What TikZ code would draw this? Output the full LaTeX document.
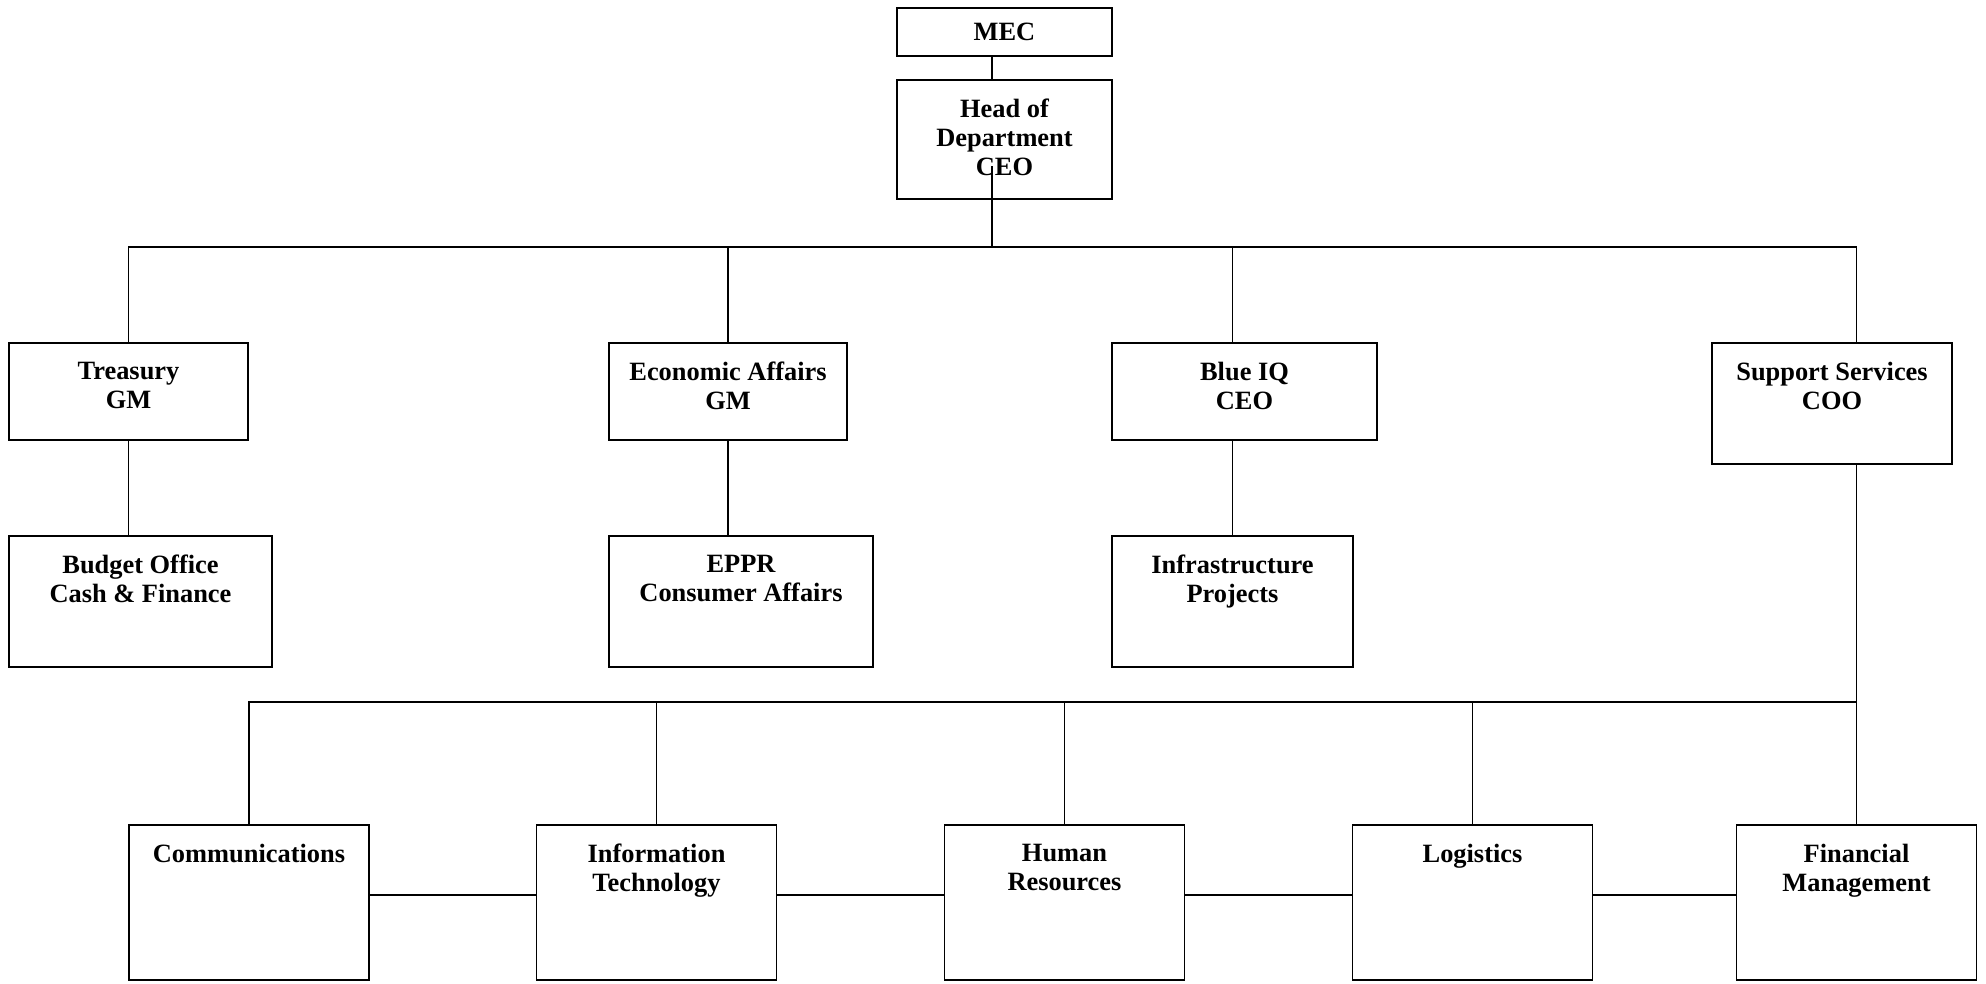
\documentclass[tikz,border=0pt]{standalone}
\usepackage{fontspec}
\setmainfont{Liberation Serif}
\usetikzlibrary{calc}

\begin{document}
\begin{tikzpicture}[x=0.5pt,y=-0.5pt,line width=0.8pt,
  unit/.style={draw,line width=0.9pt,inner sep=0pt,minimum width=120pt},
  boxtext/.style={anchor=north,align=center,inner sep=0pt,yshift=-9.6pt,
    font=\fontsize{13.2pt}{14.5pt}\selectfont\bfseries},
  ]
  \useasboundingbox (0,0) rectangle (1986,984);

  % MEC and head of department
  \node[unit,minimum width=107.5pt,minimum height=24pt,
    font=\fontsize{13.2pt}{14.5pt}\selectfont\bfseries] (mec) at (1004.5,32) {MEC};
  \node[unit,minimum width=107.5pt,minimum height=59.5pt,
    label={[boxtext]north:Head of\\Department\\CEO}] (head) at (1004.5,139.5) {};

  % branches
  \node[unit,minimum width=119.5pt,minimum height=48.5pt,
    label={[boxtext]north:Treasury\\GM}] (treasury) at (128.5,391.5) {};
  \node[unit,minimum width=119pt,minimum height=48.5pt,
    label={[boxtext]north:Economic Affairs\\GM}] (econ) at (728,391.5) {};
  \node[unit,minimum width=132.5pt,minimum height=48.5pt,
    label={[boxtext]north:Blue IQ\\CEO}] (blueiq) at (1244.5,391.5) {};
  \node[unit,minimum width=120pt,minimum height=60.5pt,
    label={[boxtext]north:Support Services\\COO}] (support) at (1832,403.5) {};

  \node[unit,minimum width=131.5pt,minimum height=65.5pt,
    label={[boxtext]north:Budget Office\\Cash \& Finance}] (budget) at (140.5,601.5) {};
  \node[unit,minimum width=132pt,minimum height=65.5pt,
    label={[boxtext]north:EPPR\\Consumer Affairs}] (eppr) at (741,601.5) {};
  \node[unit,minimum width=120.5pt,minimum height=65.5pt,
    label={[boxtext]north:Infrastructure\\Projects}] (infra) at (1232.5,601.5) {};

  % support services units
  \foreach \name/\x/\txt in {comm/249/Communications,
    it/656.5/{Information\\Technology}, hr/1064.5/{Human\\Resources},
    log/1472.5/Logistics, fin/1856.5/{Financial\\Management}}
  {
    \node[unit,minimum height=77.5pt,label={[boxtext]north:\txt}] (\name) at (\x,902.5) {};
  }

  % connectors
  \coordinate (top) at (992,247);
  \draw (mec.south -| top) -- (head.north -| top);
  \draw (top) -- ($(head.south -| top)+(0,-34)$);
  \draw (treasury.north) |- (top) -| (support.north -| fin.north);
  \draw (econ.north) -- (econ.north |- top);
  \draw (infra.north |- top) -- (infra.north |- blueiq.north);
  \draw (treasury.south) -- (treasury.south |- budget.north);
  \draw (econ.south) -- (econ.south |- eppr.north);
  \draw (infra.north |- blueiq.south) -- (infra.north);

  \draw (support.south -| fin.north) -- (fin.north);
  \coordinate (sub) at ($(fin.north)+(0,-122)$);
  \draw (comm.north) |- (sub);
  \foreach \n in {it,hr,log}
    \draw (\n.north) -- (\n.north |- sub);
  \foreach \a/\b in {comm/it,it/hr,hr/log,log/fin}
    \draw ([yshift=3.75pt]\a.east) -- ([yshift=3.75pt]\b.west);

\end{tikzpicture}
\end{document}
